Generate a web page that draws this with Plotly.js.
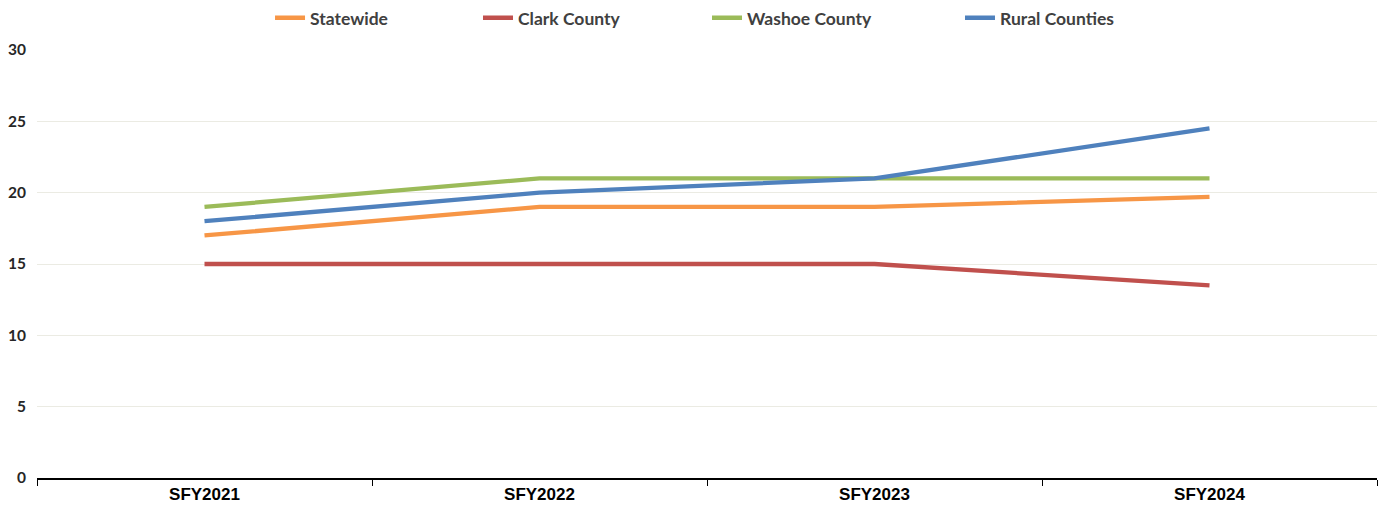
<!DOCTYPE html>
<html><head><meta charset="utf-8">
<script src="https://cdn.plot.ly/plotly-3.0.1.min.js"></script>
<style>html,body{margin:0;padding:0;background:#fff}</style>
</head><body>
<div id="chart" style="width:1382px;height:510px"></div>
<script>
const categories = ["SFY2021", "SFY2022", "SFY2023", "SFY2024"];
const statewide = [17, 19, 19, 19.7];
const clark = [15, 15, 15, 13.5];
const washoe = [19, 21, 21, 21];
const rural = [18, 20, 21, 24.5];
const seriesNames = ["Statewide", "Clark County", "Washoe County", "Rural Counties"];
const seriesColors = ["#F79646", "#C0504D", "#9BBB59", "#4F81BD"];
const yTicks = [0, 5, 10, 15, 20, 25, 30];

const legendIds = ["legend", "legend2", "legend3", "legend4"];
const legendX = [0.1739, 0.3291, 0.5, 0.6888];

const data = [statewide, clark, washoe, rural].map((vals, i) => ({
  type: "scatter", mode: "lines", x: categories, y: vals, name: seriesNames[i],
  legend: legendIds[i],
  line: {color: seriesColors[i], width: 4.3}
}));

const legendFont = {family: "Lato, 'Open Sans', sans-serif", size: 17.5, color: "#404040", weight: "bold"};

const layout = {
  width: 1382, height: 510,
  margin: {l: 37, r: 5, t: 50, b: 32},
  paper_bgcolor: "#fff", plot_bgcolor: "#fff",
  showlegend: true,
  xaxis: {type: "category", tickson: "boundaries", ticks: "outside", ticklen: 6, tickcolor: "#000",
    showline: true, linecolor: "#000", linewidth: 1.5, showgrid: false, range: [-0.5, 3.5],
    tickfont: {family: "'Liberation Sans', Arial, sans-serif", size: 17, color: "#000", weight: "bold"}},
  yaxis: {range: [0, 30], tickvals: yTicks, ticktext: yTicks.map(String), showgrid: true, gridcolor: "#EBEBE3",
    gridwidth: 1, zeroline: false, showline: false, ticks: "", ticklabelstandoff: 10,
    tickfont: {family: "Lato, 'Open Sans', sans-serif", size: 15.5, color: "#262626", weight: "bold"}}
};
legendIds.forEach((id, i) => {
  layout[id] = {orientation: "h", x: legendX[i], xanchor: "left", y: 0.965, yanchor: "middle",
    yref: "container", font: legendFont, bgcolor: "rgba(0,0,0,0)"};
});
Plotly.newPlot("chart", data, layout, {displayModeBar: false, staticPlot: true});
</script>
</body></html>
